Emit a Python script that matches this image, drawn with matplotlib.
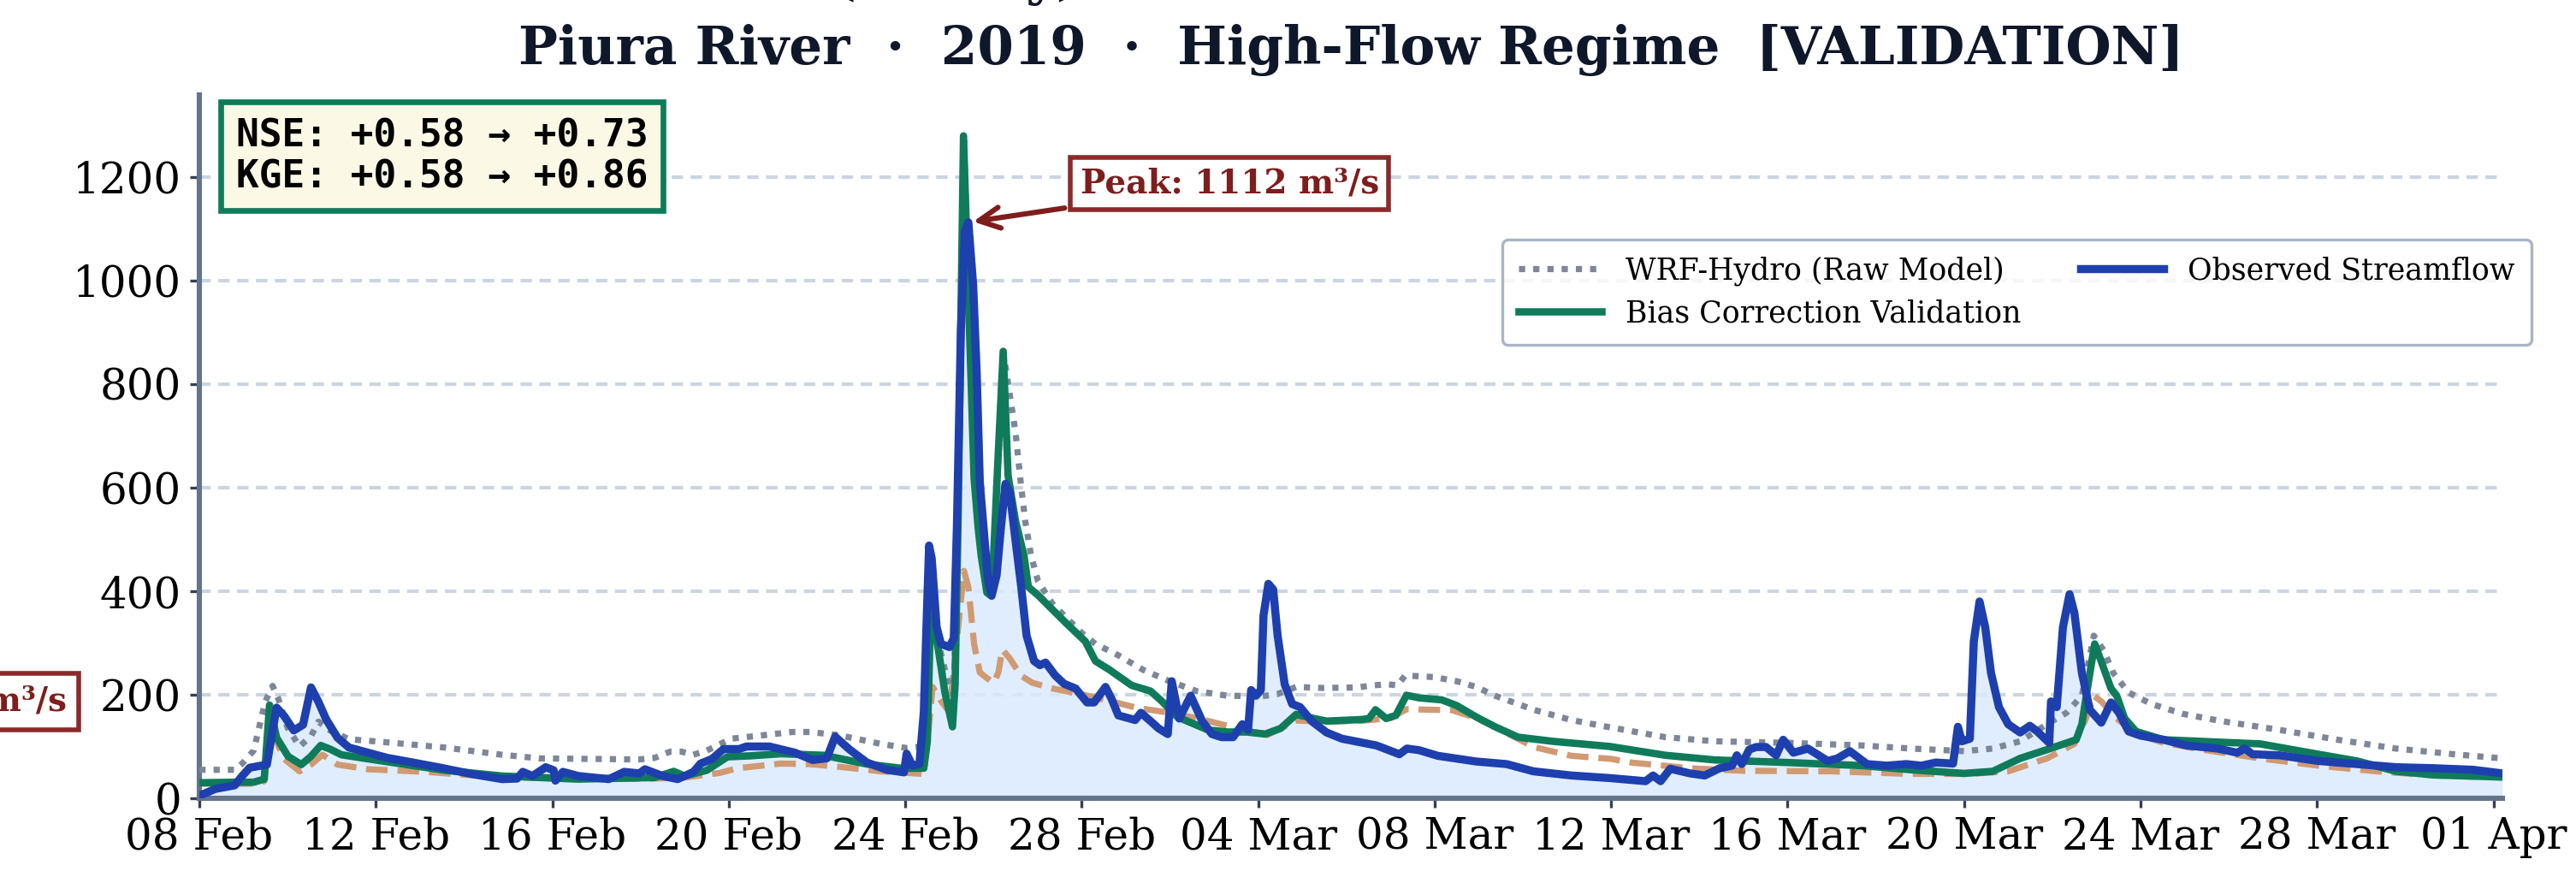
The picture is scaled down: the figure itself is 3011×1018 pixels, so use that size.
import numpy as np
import pandas as pd
import matplotlib
matplotlib.use("Agg")
import matplotlib.pyplot as plt
import matplotlib.dates as mdates

plt.rcParams["font.family"] = ["DejaVu Serif", "DejaVu Sans"]

# time axis: days since 2019-02-08 00:00
start = pd.Timestamp("2019-02-08")

# observed streamflow (m3/s)
obs_days = [0.0, 0.36, 0.8, 0.97, 1.14, 1.53, 1.66, 1.75, 1.92, 2.14, 2.35, 2.53, 2.7, 2.87,
            3.13, 3.39, 3.74, 4.26, 4.78, 5.47, 6.16, 6.86, 7.2, 7.33, 7.55, 7.85, 8.03, 8.07,
            8.24, 8.59, 9.28, 9.63, 9.97, 10.1, 10.5, 10.84, 11.2, 11.36, 11.62, 11.88, 12.23,
            12.4, 12.92, 13.5, 13.9, 14.22, 14.41, 14.74, 15.13, 15.58, 15.97, 16.03, 16.16,
            16.32, 16.42, 16.49, 16.54, 16.6, 16.71, 16.81, 17.0, 17.1, 17.17, 17.26, 17.35,
            17.43, 17.54, 17.62, 17.69, 17.8, 17.88, 17.96, 18.07, 18.17, 18.27, 18.37, 18.5,
            18.62, 18.75, 18.92, 19.05, 19.18, 19.4, 19.6, 19.86, 20.12, 20.28, 20.54, 20.67,
            20.83, 21.09, 21.21, 21.34, 21.56, 21.74, 21.95, 22.04, 22.21, 22.47, 22.73, 22.95,
            23.17, 23.43, 23.64, 23.77, 23.84, 23.95, 24.06, 24.12, 24.23, 24.34, 24.44, 24.6,
            24.77, 24.95, 25.21, 25.55, 25.9, 26.68, 27.2, 27.37, 27.64, 28.07, 28.94, 29.63,
            30.24, 31.1, 31.97, 32.78, 32.95, 33.12, 33.34, 33.79, 34.12, 34.46, 34.74, 34.85,
            34.96, 35.13, 35.29, 35.51, 35.74, 35.9, 36.13, 36.46, 36.91, 37.13, 37.41, 37.8,
            38.25, 38.69, 39.03, 39.36, 39.75, 39.86, 39.95, 40.13, 40.22, 40.35, 40.48, 40.61,
            40.79, 41.0, 41.27, 41.49, 41.66, 41.93, 41.97, 42.1, 42.24, 42.39, 42.5, 42.67,
            42.85, 43.11, 43.33, 43.51, 43.73, 44.0, 44.52, 45.04, 45.75, 46.19, 46.36, 46.54,
            47.15, 48.03, 48.91, 49.79, 50.66, 51.54, 52.2]
obs_q = [5, 18, 25, 43, 59, 65, 131, 175, 159, 131, 142, 214, 186, 153,
         117, 98, 90, 78, 70, 59, 47, 37, 38, 51, 43, 60, 54, 34,
         51, 43, 37, 51, 48, 56, 43, 37, 51, 67, 76, 95, 95,
         100, 100, 88, 74, 77, 119, 94, 69, 55, 50, 86, 63,
         66, 166, 359, 488, 463, 331, 298, 292, 309, 524, 902, 1093,
         1112, 990, 820, 610, 497, 419, 392, 430, 524, 607, 590, 497,
         414, 314, 265, 257, 262, 237, 221, 212, 185, 185, 215, 193,
         160, 154, 151, 165, 149, 135, 124, 226, 154, 198, 149, 124,
         118, 118, 143, 132, 209, 198, 209, 353, 414, 403, 314, 220,
         182, 176, 149, 127, 115, 102, 85, 96, 93, 82, 71, 66,
         52, 44, 39, 33, 44, 33, 57, 48, 44, 58, 63, 83,
         66, 94, 99, 99, 83, 113, 88, 96, 72, 77, 91, 66,
         63, 66, 63, 69, 67, 138, 110, 115, 303, 380, 330, 242,
         176, 143, 127, 140, 129, 107, 187, 176, 330, 394, 358, 242,
         171, 146, 185, 165, 129, 121, 113, 102, 96, 88, 96, 85,
         83, 72, 66, 60, 58, 55, 48]

# bias correction (validation)
bc_days = [0.0, 0.8, 1.23, 1.47, 1.59, 1.75, 2.01, 2.31, 2.53, 2.75, 2.96, 3.22, 3.83, 4.69,
           5.56, 6.86, 8.59, 10.32, 10.75, 11.0, 11.5, 11.97, 12.5, 13.18, 14.15, 15.13, 15.9,
           16.42, 16.5, 16.58, 16.75, 16.9, 17.07, 17.13, 17.2, 17.32, 17.56, 17.65, 17.72,
           17.85, 17.96, 18.09, 18.22, 18.33, 18.5, 18.69, 18.79, 19.01, 19.34, 19.66, 20.08,
           20.31, 20.63, 21.13, 21.56, 21.82, 22.17, 22.86, 23.3, 23.73, 24.16, 24.51, 24.86,
           25.21, 25.55, 26.33, 26.51, 26.66, 26.9, 27.12, 27.36, 27.64, 28.16, 28.5, 28.94,
           29.37, 29.89, 30.67, 31.97, 33.23, 34.35, 36.02, 37.69, 38.8, 40.0, 40.65, 41.27,
           41.88, 42.54, 42.67, 42.81, 42.96, 43.11, 43.33, 43.46, 43.64, 43.9, 44.52, 46.71,
           48.03, 48.91, 49.79, 50.66, 52.2]
bc_q = [30, 31, 31, 37, 180, 117, 81, 65, 81, 102, 95, 84, 76, 65,
        54, 43, 37, 40, 52, 43, 54, 80, 82, 86, 83, 66, 58,
        58, 110, 375, 287, 204, 138, 220, 552, 1279, 618, 524, 469,
        397, 390, 634, 863, 623, 535, 469, 408, 392, 364, 337, 303,
        265, 248, 218, 207, 187, 157, 132, 128, 128, 124, 135, 162,
        155, 149, 152, 154, 171, 154, 160, 199, 194, 190, 179, 157,
        138, 118, 110, 100, 83, 74, 69, 63, 55, 48, 52, 77,
        94, 113, 143, 220, 298, 264, 212, 198, 154, 129, 113, 105,
        85, 72, 52, 45, 41]

# WRF-Hydro raw model
raw_days = [0.0, 0.8, 0.97, 1.23, 1.49, 1.66, 1.79, 2.0, 2.27, 2.53, 2.7, 2.96, 3.39, 4.26,
            5.56, 6.86, 7.72, 9.97, 10.32, 10.67, 10.93, 11.19, 11.5, 12.05, 12.92, 13.44,
            13.83, 14.48, 15.45, 16.03, 16.4, 16.55, 16.75, 16.95, 17.1, 17.2, 17.33, 17.55,
            17.7, 17.85, 17.97, 18.1, 18.24, 18.35, 18.5, 18.62, 18.72, 18.85, 19.01, 19.34,
            19.66, 19.99, 20.31, 20.83, 21.39, 21.99, 22.6, 23.3, 24.08, 24.43, 24.86, 25.47,
            26.25, 26.59, 26.94, 27.16, 27.33, 27.98, 28.5, 28.94, 29.37, 30.24, 31.1, 31.97,
            33.23, 34.35, 36.02, 37.69, 38.8, 40.0, 40.65, 41.27, 41.88, 42.32, 42.67, 42.94,
            43.16, 43.38, 43.73, 44.25, 44.96, 45.83, 47.15, 48.47, 49.79, 51.1, 52.2]
raw_q = [55, 55, 67, 92, 186, 217, 192, 136, 100, 120, 148, 131, 114, 108,
         98, 84, 77, 75, 78, 90, 90, 84, 92, 115, 123, 128,
         128, 122, 105, 97, 100, 390, 300, 230, 200, 560, 1270, 700,
         520, 420, 400, 640, 850, 790, 706, 607, 535, 469, 419, 375,
         348, 320, 298, 276, 248, 226, 207, 198, 197, 201, 215, 213,
         214, 218, 220, 218, 237, 234, 226, 215, 198, 171, 151, 137,
         118, 110, 107, 102, 96, 91, 96, 110, 143, 165, 198, 314,
         286, 242, 204, 182, 163, 149, 132, 113, 96, 85, 77]

# bias correction fit (dashed, not in legend)
fit_days = [0.0, 1.23, 1.47, 1.59, 1.7, 1.92, 2.27, 2.53, 2.79, 3.13, 3.83, 5.13, 6.4, 8.5,
            10.3, 11.0, 11.8, 12.2, 12.53, 13.18, 13.83, 14.48, 15.45, 16.42, 16.55, 16.62,
            16.81, 17.0, 17.2, 17.33, 17.43, 17.56, 17.69, 17.85, 18.01, 18.11, 18.2, 18.37,
            18.62, 18.88, 19.34, 19.98, 20.63, 21.28, 21.93, 22.64, 23.3, 24.2, 24.86, 25.55,
            26.4, 27.0, 27.36, 28.4, 28.94, 29.37, 30.24, 31.1, 32.0, 32.45, 33.79, 35.0, 37.0,
            38.8, 40.13, 41.0, 41.88, 42.5, 42.76, 42.94, 43.11, 43.46, 43.9, 44.52, 45.4,
            46.71, 48.03, 49.35, 50.66, 52.2]
fit_q = [28, 28, 33, 140, 120, 76, 52, 65, 84, 65, 56, 51, 43, 37,
         38, 40, 49, 58, 61, 67, 66, 61, 52, 47, 150, 215,
         188, 166, 331, 439, 408, 298, 243, 232, 223, 243, 287, 270,
         237, 223, 212, 201, 188, 174, 166, 154, 140, 122, 150, 148,
         150, 155, 172, 170, 155, 138, 99, 82, 76, 69, 58, 53, 52,
         47, 47, 52, 77, 105, 154, 198, 187, 154, 124, 107, 94,
         77, 63, 52, 44, 40]

tick_dates = ["2019-02-08", "2019-02-12", "2019-02-16", "2019-02-20", "2019-02-24",
              "2019-02-28", "2019-03-04", "2019-03-08", "2019-03-12", "2019-03-16",
              "2019-03-20", "2019-03-24", "2019-03-28", "2019-04-01"]
y_ticks = [0, 200, 400, 600, 800, 1000, 1200]

peak_value = 1112
peak_day = 17.43
nse = (0.58, 0.73)
kge = (0.58, 0.86)


def to_time(days):
    return start + pd.to_timedelta(np.asarray(days), unit="D")


obs_t = to_time(obs_days)
bc_t = to_time(bc_days)
raw_t = to_time(raw_days)
fit_t = to_time(fit_days)

fig = plt.figure(figsize=(15.055, 5.09), dpi=200)
ax = fig.add_axes([0.0774, 0.0835, 0.8940, 0.8075])

ax.fill_between(obs_t, 0, obs_q, color="#dbeafe", alpha=0.85, lw=0, zorder=1)
ax.plot(fit_t, fit_q, color="#d09a72", lw=2.6, linestyle=(0, (3.5, 1.6)),
        zorder=2, label="_nolegend_")
ax.plot(raw_t, raw_q, color="#7d8798", lw=2.6, linestyle=(0, (1, 1.3)),
        zorder=3, label="WRF-Hydro (Raw Model)")
ax.plot(bc_t, bc_q, color="#0f7b5a", lw=3.1, zorder=4,
        label="Bias Correction Validation")
ax.plot(obs_t, obs_q, color="#1e3fae", lw=3.4, zorder=5,
        label="Observed Streamflow")

ax.set_xlim(obs_t[0], obs_t[-1])
ax.set_ylim(0, 1358)
ax.set_yticks(y_ticks)
ax.set_xticks(pd.to_datetime(tick_dates))
ax.xaxis.set_major_formatter(mdates.DateFormatter("%d %b"))
ax.tick_params(labelsize=18, length=4, width=1.2, colors="#334155", labelcolor="black")

ax.set_axisbelow(True)
ax.yaxis.grid(True, linestyle=(0, (3.2, 2.1)), color="#cbd5e1", lw=1.5)
for s in ["top", "right"]:
    ax.spines[s].set_visible(False)
for s in ["left", "bottom"]:
    ax.spines[s].set_color("#64748b")
    ax.spines[s].set_linewidth(2.2)

ax.set_title("Streamflow (Hourly) \u2014 Bias Correction Performance Check\n"
             "Piura River  \u00b7  2019  \u00b7  High-Flow Regime  [VALIDATION]",
             fontsize=22, fontweight="bold", color="#0f172a", pad=13, linespacing=1.45)

leg = ax.legend(loc="upper right", bbox_to_anchor=(1.0126, 0.794), borderaxespad=0,
                ncol=2, fontsize=12.5, frameon=True, fancybox=True, handlelength=2.8,
                columnspacing=2.0, labelspacing=0.45, borderpad=0.55)
leg.get_frame().set_edgecolor("#94a3b8")
leg.get_frame().set_linewidth(1.2)

stats = (f"NSE: {nse[0]:+.2f} \u2192 {nse[1]:+.2f}\n"
         f"KGE: {kge[0]:+.2f} \u2192 {kge[1]:+.2f}")
ax.text(0.016, 0.968, stats, transform=ax.transAxes, ha="left", va="top",
        family="DejaVu Sans Mono", fontsize=16, fontweight="bold", color="black",
        linespacing=1.15, zorder=6,
        bbox=dict(boxstyle="square,pad=0.4", facecolor="#fbf9e6", edgecolor="#0f7b5a", lw=2.4))

peak_t = start + pd.Timedelta(days=peak_day)
ax.annotate(f"Peak: {peak_value} m\u00b3/s", xy=(peak_t, peak_value),
            xytext=(start + pd.Timedelta(days=23.35), 1187),
            ha="center", va="center", fontsize=14, fontweight="bold", color="#7f1d1d",
            bbox=dict(boxstyle="square,pad=0.3", facecolor="white", edgecolor="#8b2a2a", lw=2),
            arrowprops=dict(arrowstyle="->", color="#7f1d1d", lw=2.2, mutation_scale=22),
            zorder=7)

fig.text(0.026, 1 - 820 / 1018, "Flood threshold: 200 m\u00b3/s", ha="right", va="center",
         fontsize=14, fontweight="bold", color="#7f1d1d",
         bbox=dict(boxstyle="square,pad=0.35", facecolor="white", edgecolor="#8b2a2a", lw=2))

fig.savefig("out.png", dpi=200)
